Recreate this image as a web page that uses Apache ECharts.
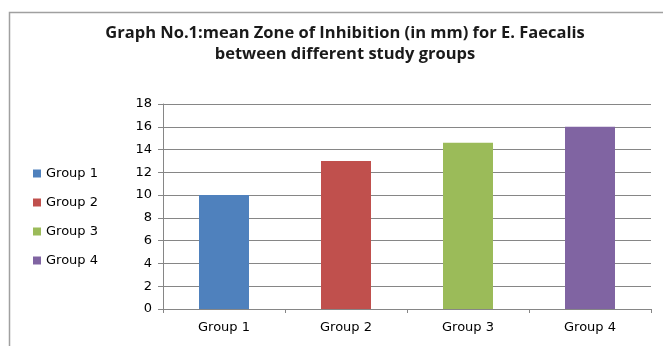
<!DOCTYPE html>
<html>
<head>
<meta charset="utf-8">
<script src="https://cdn.jsdelivr.net/npm/echarts@6/dist/echarts.min.js"></script>
<style>
  html, body { margin: 0; padding: 0; background: #fff; }
  #chart { width: 663px; height: 346px; }
</style>
</head>
<body>
<div id="chart"></div>
<script>
const categories = ['Group 1', 'Group 2', 'Group 3', 'Group 4'];
const meanZone = [10, 13, 14.6, 16];
const barColors = ['#4F81BD', '#C0504D', '#9BBB59', '#8064A2'];
const yTicks = { min: 0, max: 18, interval: 2 };

const chart = echarts.init(document.getElementById('chart'));

// One series per group so each group gets its own legend entry;
// the series overlap on their own category slot.
const series = categories.map((name, i) => ({
  name: name,
  type: 'bar',
  barWidth: 50,
  barGap: '-100%',
  itemStyle: { color: barColors[i] },
  data: categories.map((c, j) => (j === i ? meanZone[i] : '-'))
}));

chart.setOption({
  animation: false,
  graphic: [{
    type: 'rect',
    left: 7, top: 10,
    shape: { width: 720, height: 400 },
    style: { fill: 'none', stroke: '#a0a0a0', lineWidth: 1.5 },
    silent: true
  }],
  title: {
    text: 'Graph No.1:mean Zone of Inhibition (in mm) for E. Faecalis\nbetween different study groups',
    left: 340, top: 18, textAlign: 'center',
    textStyle: { fontFamily: 'Open Sans', fontWeight: 'bold', fontSize: 16.5, color: '#1a1a1a', lineHeight: 21 }
  },
  legend: {
    orient: 'vertical',
    left: 28, top: 162,
    icon: 'rect',
    itemWidth: 8, itemHeight: 8, itemGap: 16,
    textStyle: { fontFamily: 'DejaVu Sans', fontSize: 13, color: '#000', padding: [0, 0, 0, 0] },
    data: categories
  },
  grid: { left: 163, right: 12, top: 104, bottom: 37 },
  xAxis: {
    type: 'category',
    data: categories,
    axisLine: { lineStyle: { color: '#868686' } },
    axisTick: { show: true, length: 4, lineStyle: { color: '#868686' } },
    axisLabel: { fontFamily: 'DejaVu Sans', fontSize: 13, color: '#000', margin: 12 }
  },
  yAxis: {
    type: 'value',
    min: yTicks.min, max: yTicks.max, interval: yTicks.interval,
    axisLine: { show: true, lineStyle: { color: '#868686' } },
    axisTick: { show: true, length: 5, lineStyle: { color: '#868686' } },
    splitLine: { lineStyle: { color: '#868686' } },
    axisLabel: { fontFamily: 'DejaVu Sans', fontSize: 13, color: '#000', margin: 11 }
  },
  series: series
});
</script>
</body>
</html>
